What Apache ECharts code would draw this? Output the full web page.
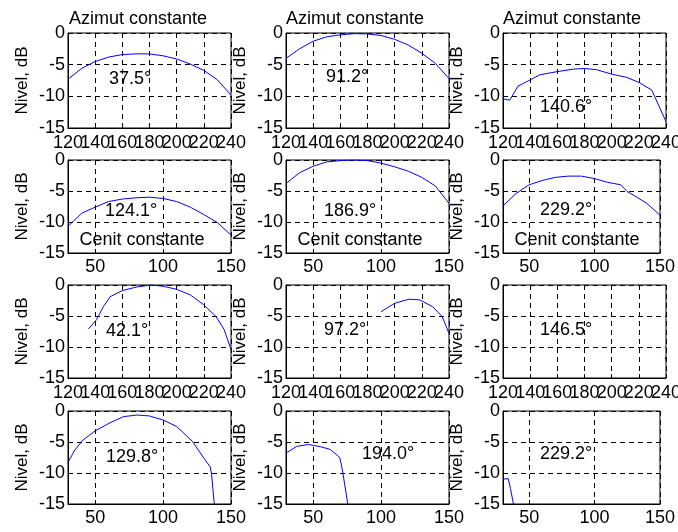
<!DOCTYPE html>
<html>
<head>
<meta charset="utf-8">
<script src="https://cdn.jsdelivr.net/npm/echarts@6/dist/echarts.min.js"></script>
<style>html,body{margin:0;padding:0;background:#fff}#c{width:678px;height:532px}</style>
</head>
<body>
<div id="c"></div>
<script>
// ---- data ----
const yTicks = [0, -5, -10, -15];
const azTicks = [120, 140, 160, 180, 200, 220, 240];
const ceTicks = [50, 100, 150];

const r1c1X = [120,130,140,150,160,170,180,190,200,210,220,230,240];
const r1c1Y = [-7.3,-5.6,-4.5,-3.8,-3.4,-3.3,-3.3,-3.6,-4.1,-4.9,-5.9,-7.4,-9.8];
const r1c2X = [120,130,140,150,160,170,180,190,200,210,220,230,240];
const r1c2Y = [-4.0,-2.5,-1.3,-0.6,-0.3,-0.1,-0.15,-0.4,-1.0,-1.9,-3.2,-4.8,-7.2];
const r1c3X = [120,125,131,140,147,160,172,180,189,200,211,220,229.5,240];
const r1c3Y = [-10.4,-10.6,-8.4,-7.4,-6.6,-6.1,-5.7,-5.6,-5.8,-6.5,-7.0,-7.8,-9.0,-14.0];

const r2c1X = [30,40,50,60,70,80,90,100,110,120,130,140,150];
const r2c1Y = [-10.7,-8.6,-7.6,-6.7,-6.3,-6.1,-6.0,-6.2,-6.7,-7.6,-8.8,-10.1,-12.1];
const r2c2X = [30,40,50,60,70,80,90,100,110,120,130,140,150];
const r2c2Y = [-3.8,-2.05,-1.0,-0.3,-0.1,0,-0.1,-0.5,-1.1,-1.8,-2.8,-4.2,-7.0];
const r2c3X = [30,40,50,60,70,80,90,100,110,120,125,130,140,150];
const r2c3Y = [-7.4,-5.4,-4.0,-3.3,-2.8,-2.6,-2.6,-3.0,-3.6,-4.0,-5.1,-5.7,-7.0,-8.9];

const r3c1X = [135,141,146,151,160,171,181,190,200,210,220,229,235,240];
const r3c1Y = [-7.1,-5.6,-3.5,-1.9,-0.9,-0.3,0,-0.2,-0.7,-1.6,-3.2,-5.1,-7.2,-10.4];
const r3c2X = [190,200,208.6,211,218.5,228,235,240];
const r3c2Y = [-4.3,-2.95,-2.4,-2.3,-2.4,-3.5,-5.1,-7.8];
const r3c3X = [239.5,240];
const r3c3Y = [-11.6,-12.3];

const r4c1X = [30,35,41,50,61,71,81,90,100,110,121.6,130,134.7,135.7,137.7];
const r4c1Y = [-8.3,-6.3,-4.7,-3.2,-1.9,-0.9,-0.65,-0.8,-1.45,-2.5,-4.9,-7.6,-9.0,-10.2,-15];
const r4c2X = [30,37.9,46.6,55.2,62.7,69.6,71.5,75.5];
const r4c2Y = [-6.8,-5.7,-5.4,-5.75,-6.2,-7.5,-9.5,-15];
const r4c3X = [30,34,35.7,38];
const r4c3Y = [-11.0,-10.9,-12.5,-15];

const angleLabels = ['37.5°','91.2°','140.6°','124.1°','186.9°','229.2°','42.1°','97.2°','146.5°','129.8°','194.0°','229.2°'];
const rowTitle = 'Azimut constante';
const rowNote = 'Cenit constante';
const yName = 'Nivel, dB';

const seriesX = [r1c1X,r1c2X,r1c3X,r2c1X,r2c2X,r2c3X,r3c1X,r3c2X,r3c3X,r4c1X,r4c2X,r4c3X];
const seriesY = [r1c1Y,r1c2Y,r1c3Y,r2c1Y,r2c2Y,r2c3Y,r3c1Y,r3c2Y,r3c3Y,r4c1Y,r4c2Y,r4c3Y];

// ---- layout ----
const FONT = 'Liberation Sans, Arial, sans-serif';
const FS = 18;
const colLeft = [68, 286, 503];
const colW = 163;
const rowTop = [33, 160, 285, 411];
const rowH = [95, 93, 93, 93];
const anglePos = [[130,79],[347,77],[566,107],[131,211],[350,211],[566,210],[127,331],[345,330],[566,330],[132,457],[388,454],[566,454]];
const titlePos = [[138,19],[355,19],[572,19]];
const notePos = [[142,240],[360,240],[577,240]];
const X_LABEL_GAP = 5;

const grids = [], xAxes = [], yAxes = [], series = [];
const gridLine = {show:true, lineStyle:{color:'#000', width:1, type:[5,4]}};
const azIdx = [];
for (let r = 0; r < 4; r++) {
  for (let c = 0; c < 3; c++) {
    const i = r*3 + c;
    const az = (r % 2 === 0);
    grids.push({left: colLeft[c], top: rowTop[r], width: colW, height: rowH[r],
      show: true, borderColor: '#000', borderWidth: 1, backgroundColor: '#fff', containLabel: false});
    const xa = {type:'value', gridIndex:i, min: az ? 120 : 30, max: az ? 240 : 150,
      axisLine:{show:true, onZero:false, lineStyle:{color:'#000', width:1}},
      axisTick:{show:true, inside:true, length:4, lineStyle:{color:'#000'}},
      axisLabel:{show:!az, color:'#000', fontFamily:FONT, fontSize:FS, margin:X_LABEL_GAP,
        hideOverlap:false, showMinLabel:true, showMaxLabel:true},
      splitLine: gridLine};
    if (az) {
      xa.interval = 20;
      azIdx.push(i);
    } else {
      xa.axisLabel.customValues = ceTicks;
      xa.axisTick.customValues = ceTicks;
    }
    xAxes.push(xa);
    yAxes.push({type:'value', gridIndex:i, min:-15, max:0, interval:5,
      name: yName, nameLocation:'middle', nameGap:37,
      nameTextStyle:{color:'#000', fontFamily:FONT, fontSize:17},
      axisLine:{show:true, onZero:false, lineStyle:{color:'#000', width:1}},
      axisTick:{show:true, inside:true, length:4, lineStyle:{color:'#000'}},
      axisLabel:{show:true, color:'#000', fontFamily:FONT, fontSize:FS, margin:3,
        showMinLabel:true, showMaxLabel:true},
      splitLine: gridLine});
    const xs = seriesX[i], ys = seriesY[i];
    series.push({type:'line', xAxisIndex:i, yAxisIndex:i, showSymbol:false, symbol:'none',
      clip:true, animation:false, lineStyle:{color:'#0000ff', width:1},
      data: xs.map((x, k) => [x, ys[k]])});
  }
}

const txt = (t, x, y, va) => ({type:'text', x:x, y:y, z:100,
  style:{text:t, font: FS + 'px ' + FONT, fill:'#000', align:'center', verticalAlign:va || 'middle',
    textAlign:'center', textVerticalAlign:va || 'middle'}});

const chart = echarts.init(document.getElementById('c'), null, {renderer:'canvas'});
chart.setOption({
  animation:false,
  backgroundColor:'#fff',
  grid: grids, xAxis: xAxes, yAxis: yAxes, series: series
});

// annotations and overlapping azimuth tick labels (placed through the axes' own scales)
const graphics = [];
titlePos.forEach(p => graphics.push(txt(rowTitle, p[0], p[1])));
notePos.forEach(p => graphics.push(txt(rowNote, p[0], p[1])));
angleLabels.forEach((t, i) => graphics.push(txt(t, anglePos[i][0], anglePos[i][1])));
azIdx.forEach(i => {
  azTicks.forEach(v => {
    const p = chart.convertToPixel({gridIndex: i}, [v, -15]);
    graphics.push(txt(String(v), p[0], p[1] + X_LABEL_GAP + 1, 'top'));
  });
});
chart.setOption({graphic: graphics});
</script>
</body>
</html>
